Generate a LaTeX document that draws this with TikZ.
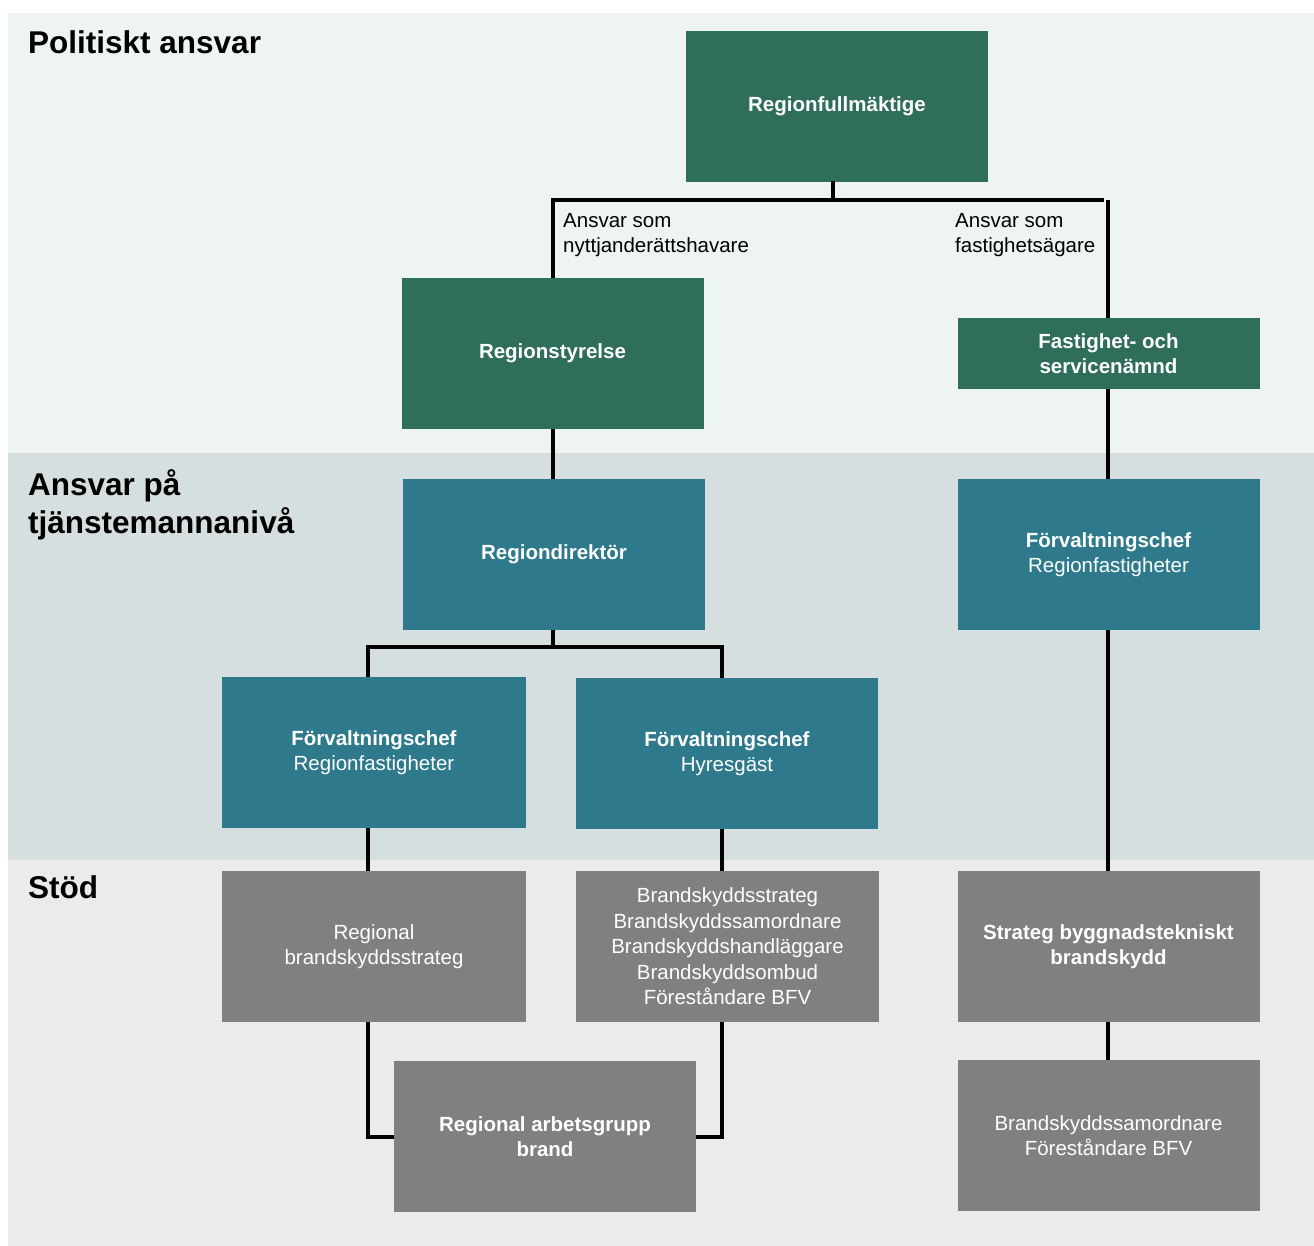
\documentclass[tikz,border=0pt]{standalone}
\usepackage{fontspec}
\setmainfont{Liberation Sans}
\definecolor{pgreen}{HTML}{2F6E5A}
\definecolor{pteal}{HTML}{2E7A8C}
\definecolor{pgrey}{HTML}{808080}
\definecolor{bandA}{HTML}{EEF4F1}
\definecolor{bandB}{HTML}{D5DFE0}
\definecolor{bandC}{HTML}{EBEBEB}
\tikzset{
  box/.style={rectangle, inner sep=0pt, minimum width=302pt, minimum height=151pt, text=white, align=center, font=\fontsize{20.5}{25.5}\selectfont},
  gbox/.style={box, fill=pgreen, font=\fontsize{20.5}{25.5}\selectfont\bfseries},
  tbox/.style={box, fill=pteal},
  rbox/.style={box, fill=pgrey},
  conn/.style={draw=black, line width=4pt},
  band/.style={font=\fontsize{31.5}{38}\selectfont\bfseries, anchor=north west, align=left, inner sep=0pt},
  lbl/.style={font=\fontsize{20.5}{25.5}\selectfont, anchor=north west, align=left, inner sep=0pt}
}
\begin{document}
\begin{tikzpicture}[x=1pt,y=-1pt]
\useasboundingbox (0,0) rectangle (1314,1246);
\fill[white] (0,0) rectangle (1314,1246);
\fill[bandA] (8,13) rectangle (1314,453);
\fill[bandB] (8,453) rectangle (1314,860);
\fill[bandC] (8,860) rectangle (1314,1246);
\node[band] (t1) at (28,30) {Politiskt ansvar};
\node[band] (t2) at (28,469) {Ansvar på\\tjänstemannanivå};
\node[band] (t3) at (28,875) {Stöd};
% boxes
\node[gbox] (rf) at (837,106.5) {Regionfullmäktige};
\node[gbox] (rs) at (552.5,353.5) {Regionstyrelse};
\node[gbox, minimum height=71pt] (fs) at (1108.5,353.5) {Fastighet- och\\servicenämnd};
\node[tbox] (rd) at (554,554.5) {\textbf{Regiondirektör}};
\node[tbox] (fr) at (1108.5,554.5) {\textbf{Förvaltningschef}\\Regionfastigheter};
\node[tbox, minimum width=304pt] (fl) at (374,752.5) {\textbf{Förvaltningschef}\\Regionfastigheter};
\node[tbox] (fh) at (727,753.5) {\textbf{Förvaltningschef}\\Hyresgäst};
\node[rbox, minimum width=304pt] (rb) at (374,946.5) {Regional\\brandskyddsstrateg};
\node[rbox, minimum width=303pt] (bl) at (727.5,946.5) {Brandskyddsstrateg\\Brandskyddssamordnare\\Brandskyddshandläggare\\Brandskyddsombud\\Föreståndare BFV};
\node[rbox] (sb) at (1108.5,946.5) {\textbf{Strateg byggnadstekniskt}\\\textbf{brandskydd}};
\node[rbox] (ra) at (545,1136.5) {\textbf{Regional arbetsgrupp}\\\textbf{brand}};
\node[rbox] (bs) at (1108.5,1135.5) {Brandskyddssamordnare\\Föreståndare BFV};
% connectors
\coordinate (j1) at (833,200);
\draw[conn] (833,181) -- (j1);
\draw[conn] (rs.north -| 553,0) |- (1104,200);
\draw[conn] (1108,200) -- (fs.north -| 1108,0);
\node[lbl] (l1) at (563,213) {Ansvar som\\nyttjanderättshavare};
\node[lbl] (l2) at (955,213) {Ansvar som\\fastighetsägare};
\draw[conn] (rs.south -| 553,0) -- (rd.north -| 553,0);
\draw[conn] (fs.south -| 1108,0) -- (fr.north -| 1108,0);
\draw[conn] (rd.south -| 553,0) -- (553,647);
\draw[conn] (fl.north -| 368,0) |- (553,647) -| (fh.north -| 722,0);
\draw[conn] (fr.south -| 1108,0) -- (sb.north -| 1108,0);
\draw[conn] (fl.south -| 368,0) -- (rb.north -| 368,0);
\draw[conn] (fh.south -| 722,0) -- (bl.north -| 722,0);
\draw[conn] (rb.south -| 368,0) |- (ra.west |- 0,1137);
\draw[conn] (bl.south -| 722,0) |- (ra.east |- 0,1137);
\draw[conn] (sb.south -| 1108,0) -- (bs.north -| 1108,0);
\end{tikzpicture}
\end{document}
